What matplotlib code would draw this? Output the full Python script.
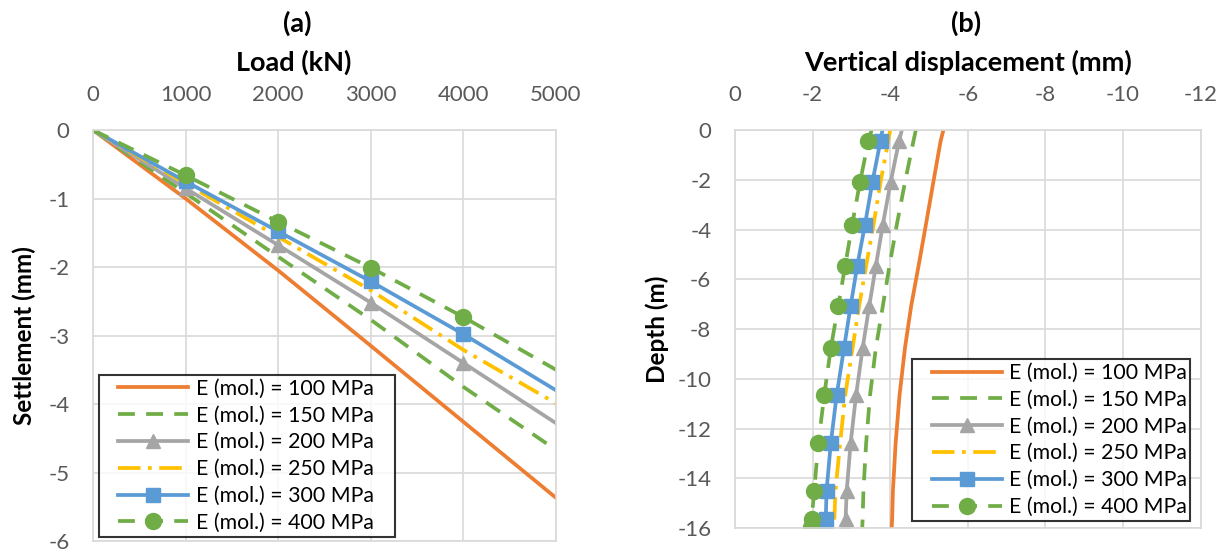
import matplotlib
matplotlib.use("Agg")
import matplotlib.pyplot as plt
from matplotlib.lines import Line2D
from matplotlib.legend_handler import HandlerLine2D

plt.rcParams['font.family'] = ['Lato', 'DejaVu Sans']
plt.rcParams['axes.unicode_minus'] = False

# (a) load - settlement
load = [0, 1000, 2000, 3000, 4000, 5000]
settle_100 = [0, -1.00, -2.05, -3.15, -4.26, -5.37]
settle_150 = [0, -0.92, -1.85, -2.77, -3.75, -4.67]
settle_200 = [0, -0.85, -1.68, -2.52, -3.40, -4.28]
settle_250 = [0, -0.78, -1.56, -2.34, -3.21, -3.99]
settle_300 = [0, -0.75, -1.48, -2.21, -2.98, -3.80]
settle_400 = [0, -0.66, -1.34, -2.01, -2.73, -3.50]

# (b) vertical displacement along depth
depth = [0, -0.43, -2.1, -3.8, -5.46, -7.07, -8.76, -10.66, -12.58, -14.49, -15.63, -15.96]
disp_100 = [-5.37, -5.30, -5.11, -4.92, -4.73, -4.54, -4.38, -4.24, -4.14, -4.07, -4.05, -4.04]
disp_150 = [-4.66, -4.60, -4.38, -4.17, -3.98, -3.81, -3.63, -3.48, -3.38, -3.31, -3.29, -3.28]
disp_200 = [-4.30, -4.23, -4.01, -3.81, -3.63, -3.46, -3.29, -3.12, -2.98, -2.88, -2.85, -2.84]
disp_250 = [-4.00, -3.95, -3.75, -3.57, -3.38, -3.20, -3.03, -2.84, -2.71, -2.59, -2.56, -2.55]
disp_300 = [-3.80, -3.75, -3.54, -3.35, -3.15, -2.98, -2.81, -2.62, -2.47, -2.36, -2.34, -2.32]
disp_400 = [-3.52, -3.44, -3.22, -3.02, -2.84, -2.66, -2.47, -2.30, -2.15, -2.04, -1.98, -1.96]

labels = ['E (mol.) = 100 MPa', 'E (mol.) = 150 MPa', 'E (mol.) = 200 MPa',
          'E (mol.) = 250 MPa', 'E (mol.) = 300 MPa', 'E (mol.) = 400 MPa']

orange = '#ED7D31'
green = '#70AD47'
grey = '#A5A5A5'
yellow = '#FFC000'
blue = '#5B9BD5'
grid_c = '#D9D9D9'
tick_c = '#595959'

styles = [
    dict(color=orange, lw=2.7, ls='-'),
    dict(color=green, lw=2.7, ls=(0, (4.5, 3))),
    dict(color=grey, lw=2.7, ls='-', marker='^', ms=10.5),
    dict(color=yellow, lw=2.7, ls=(0, (6, 2, 1, 2))),
    dict(color=blue, lw=2.7, ls='-', marker='s', ms=10.5),
    dict(color=green, lw=2.7, ls=(0, (4.5, 3)), marker='o', ms=11.5),
]


def style_axes(ax):
    ax.grid(True, color=grid_c, lw=1.2)
    ax.set_axisbelow(True)
    for sp in ax.spines.values():
        sp.set_color(grid_c)
        sp.set_linewidth(1.2)
    ax.xaxis.tick_top()
    ax.xaxis.set_label_position('top')
    ax.tick_params(axis='both', length=0, labelsize=16, colors=tick_c)
    ax.tick_params(axis='x', pad=18)
    ax.tick_params(axis='y', pad=17)


def add_legend(ax, anchor):
    leg = ax.legend(loc='lower left', bbox_to_anchor=anchor, mode='expand',
                    fontsize=15.3, frameon=True, fancybox=False, handlelength=4.0,
                    labelspacing=0.32, borderaxespad=0, borderpad=0.2,
                    handletextpad=0.34, handler_map={Line2D: HandlerLine2D(xpad=0.7)})
    leg.get_frame().set_edgecolor('black')
    leg.get_frame().set_linewidth(1.5)
    return leg


fig = plt.figure(figsize=(12.29, 5.56), dpi=100)
ax1 = fig.add_axes([0.0757, 0.027, 0.3767, 0.739])
ax2 = fig.add_axes([0.598, 0.050, 0.379, 0.716])

for ys, lab, st in zip([settle_100, settle_150, settle_200, settle_250, settle_300, settle_400], labels, styles):
    ax1.plot(load, ys, label=lab, markevery=slice(1, 5), **st)
ax1.set_xlim(0, 5000)
ax1.set_ylim(-6, 0)
ax1.set_xticks(range(0, 5001, 1000))
ax1.set_yticks(range(-6, 1))
style_axes(ax1)
ax1.set_xlabel('Load (kN)', fontsize=19.5, fontweight='bold', va='center')
ax1.xaxis.set_label_coords(0.434, 1.165)
ax1.set_ylabel('Settlement (mm)', fontsize=17.5, fontweight='bold', va='center')
ax1.yaxis.set_label_coords(-0.149, 0.5)
add_legend(ax1, (0.013, 0.0097, 0.639, 0.4))

for xs, lab, st in zip([disp_100, disp_150, disp_200, disp_250, disp_300, disp_400], labels, styles):
    ax2.plot(xs, depth, label=lab, markevery=slice(1, None), **st)
ax2.set_xlim(0, -12)
ax2.set_ylim(-16, 0)
ax2.set_xticks(range(0, -13, -2))
ax2.set_yticks(range(-16, 1, 2))
style_axes(ax2)
ax2.set_xlabel('Vertical displacement (mm)', fontsize=19.5, fontweight='bold', va='center')
ax2.xaxis.set_label_coords(0.5, 1.171)
ax2.set_ylabel('Depth (m)', fontsize=17.5, fontweight='bold', va='center')
ax2.yaxis.set_label_coords(-0.167, 0.5)
add_legend(ax2, (0.381, 0.0176, 0.595, 0.4))

fig.text(0.2417, 0.958, '(a)', ha='center', va='center', fontsize=19.5, fontweight='bold')
fig.text(0.7857, 0.958, '(b)', ha='center', va='center', fontsize=19.5, fontweight='bold')

fig.savefig('out.png', dpi=100)
